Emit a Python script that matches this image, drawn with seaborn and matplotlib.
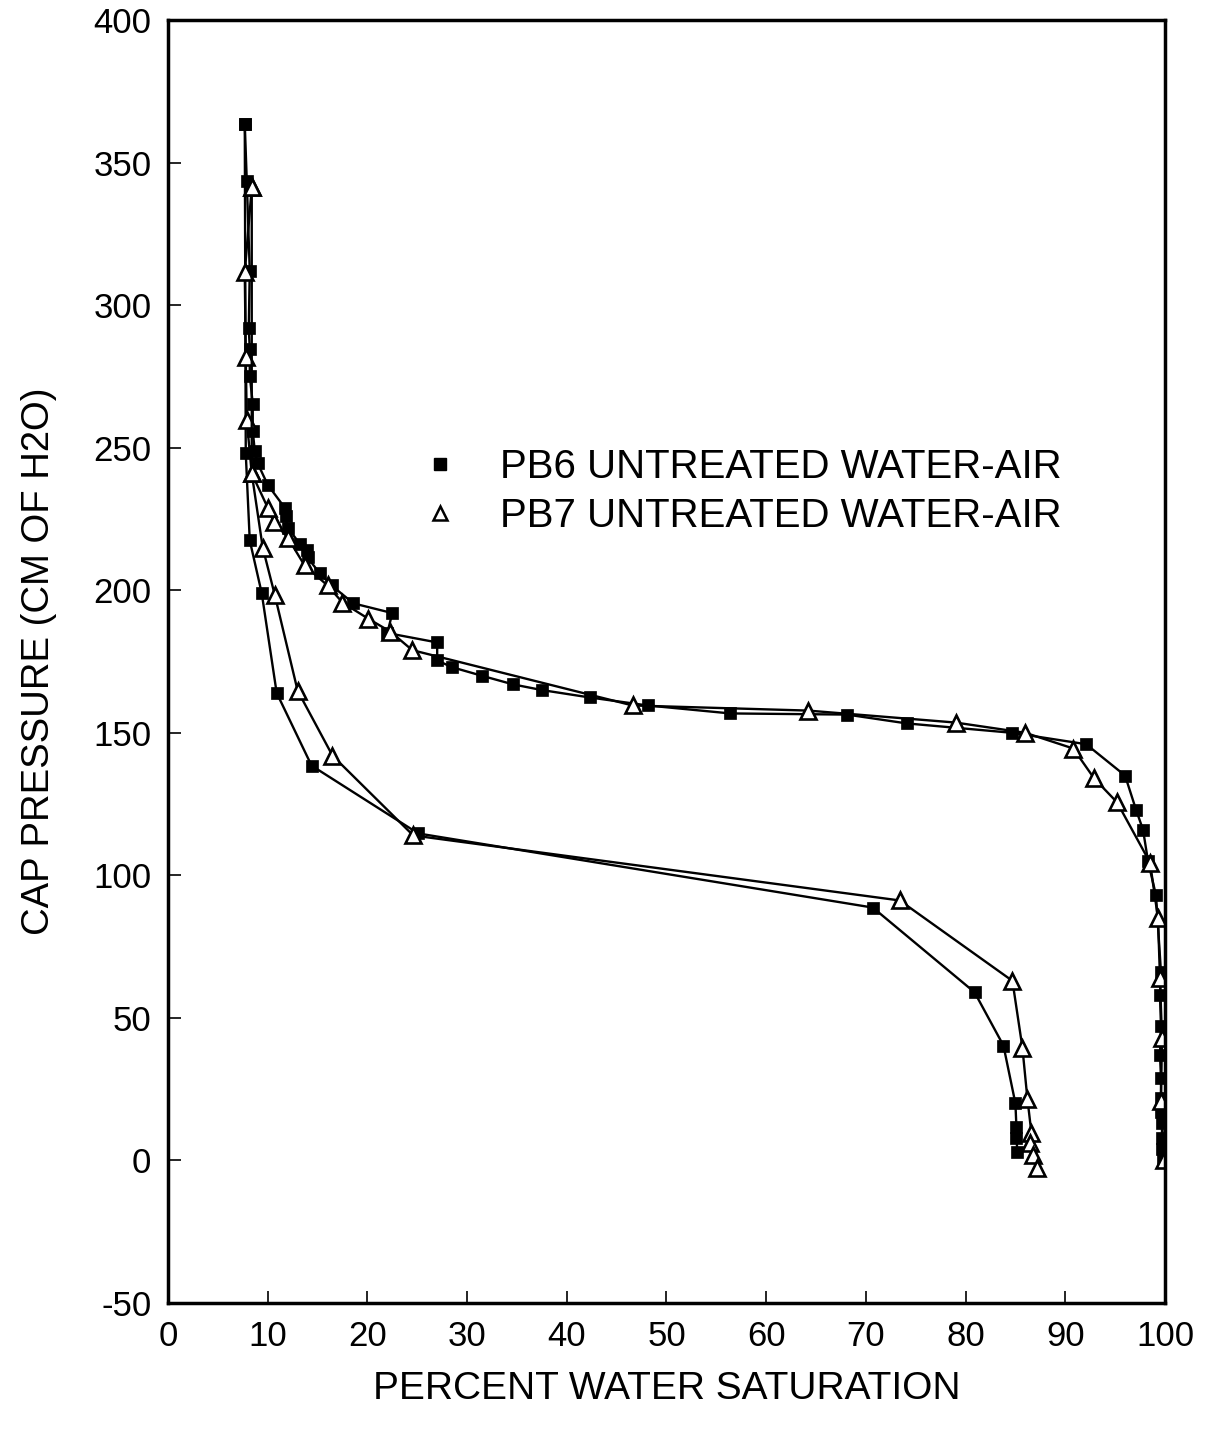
import matplotlib
matplotlib.use("Agg")
import matplotlib.pyplot as plt
import seaborn as sns
import pandas as pd
from matplotlib.lines import Line2D

# ---- data ----
pb6_drain_sw = [99.8, 99.7, 99.7, 99.7, 99.6, 99.6, 99.6, 99.5, 99.6, 99.5, 99.6, 99.1, 98.3, 97.8, 97.1, 96.0,
                92.1, 84.7, 74.1, 68.1, 56.4, 48.1, 42.3, 37.5, 34.6, 31.5, 28.5, 27.0, 27.0, 22.0, 22.5, 18.6,
                16.4, 15.2, 14.0, 13.9, 13.2, 12.0, 11.8, 11.7, 10.0, 9.0, 8.7, 8.5, 8.5, 8.2, 8.2, 8.1, 8.2,
                7.9, 7.7]
pb6_drain_pc = [1, 4, 8, 13, 17, 22, 29, 37, 47, 58, 66, 93, 105, 116, 123, 135,
                146, 150, 153.3, 156.4, 156.8, 159.6, 162.4, 165, 167, 170, 173, 175.4, 181.7, 185, 192, 195.4,
                201.7, 206, 211.5, 214, 216.4, 222, 226, 229, 237, 244.5, 249, 256, 265.5, 275.3, 284.8, 292, 312,
                343.7, 363.7]
pb6_imb_sw = [7.7, 7.8, 8.2, 9.4, 10.9, 14.4, 25.1, 70.7, 80.9, 83.8, 85.0, 85.1, 85.1, 85.2]
pb6_imb_pc = [363.7, 248, 217.5, 199, 164, 138.5, 114.7, 88.7, 59, 40.3, 20, 11.7, 8, 2.8]

pb7_drain_sw = [99.9, 99.6, 99.7, 99.5, 99.3, 98.5, 95.2, 92.9, 90.8, 86.0, 79.0, 64.2, 46.6, 24.5, 22.3,
                20.1, 17.5, 16.0, 13.7, 12.0, 10.6, 10.0, 8.4, 7.9, 7.8, 7.7, 8.4]
pb7_drain_pc = [0, 21, 43, 64, 85, 104.5, 125.6, 134, 144.5, 150, 153.6, 157.8, 159.6, 179, 185.5,
                190, 195.7, 201.7, 208.7, 218.5, 224, 229, 241, 259.6, 281.7, 311.5, 341.3]
pb7_imb_sw = [8.4, 8.4, 9.5, 10.7, 13.0, 16.5, 24.6, 73.4, 84.7, 85.7, 86.2, 86.6, 86.5, 86.8, 87.2]
pb7_imb_pc = [341.3, 241, 215, 198.5, 164.8, 142, 114, 91.2, 63, 39.6, 21.7, 9.8, 6, 1.8, -2.8]

legend_labels = ["PB6 UNTREATED WATER-AIR", "PB7 UNTREATED WATER-AIR"]
x_ticks = [0, 10, 20, 30, 40, 50, 60, 70, 80, 90, 100]
y_ticks = [-50, 0, 50, 100, 150, 200, 250, 300, 350, 400]

sns.set_theme(style="white")
plt.rcParams["font.family"] = ["Liberation Sans", "DejaVu Sans"]

fig = plt.figure(figsize=(12.13, 14.33), dpi=100)
ax = fig.add_axes([0.1385, 0.0907, 0.8219, 0.8953])

sq = dict(color="black", marker="s", markersize=8, markerfacecolor="black",
          markeredgecolor="black", markeredgewidth=0.5, linewidth=1.7, sort=False)
tri = dict(color="black", marker="^", markersize=12, markerfacecolor="white",
           markeredgecolor="black", markeredgewidth=1.9, linewidth=1.7, sort=False)

for sw, pc in [(pb6_drain_sw, pb6_drain_pc), (pb6_imb_sw, pb6_imb_pc)]:
    df = pd.DataFrame({"sw": sw, "pc": pc})
    sns.lineplot(data=df, x="sw", y="pc", ax=ax, estimator=None, **sq)
for sw, pc in [(pb7_drain_sw, pb7_drain_pc), (pb7_imb_sw, pb7_imb_pc)]:
    df = pd.DataFrame({"sw": sw, "pc": pc})
    sns.lineplot(data=df, x="sw", y="pc", ax=ax, estimator=None, **tri)

ax.set_xlim(0, 100)
ax.set_ylim(-50, 400)
ax.set_xticks(x_ticks)
ax.set_yticks(y_ticks)
ax.set_xticklabels([str(t) for t in x_ticks], fontsize=25)
ax.set_yticklabels([str(t) for t in y_ticks], fontsize=25)
ax.tick_params(axis="both", direction="in", length=9, width=1.2, color="black",
               pad=12, labelcolor="black", bottom=True, left=True)
for s in ax.spines.values():
    s.set_color("black")
    s.set_linewidth(2.5)

ax.set_xlabel("PERCENT WATER SATURATION", fontsize=28, color="black", labelpad=13)
ax.set_ylabel("CAP PRESSURE (CM OF H2O)", fontsize=27.5, color="black", labelpad=26)

handles = [
    Line2D([], [], linestyle="none", marker="s", markersize=8, markerfacecolor="black",
           markeredgecolor="black"),
    Line2D([], [], linestyle="none", marker="^", markersize=10, markerfacecolor="white",
           markeredgecolor="black", markeredgewidth=1.8),
]
ax.legend(handles, legend_labels, loc="upper left", bbox_to_anchor=(0.216, 0.695),
          frameon=False, fontsize=29, handlelength=1.0, handletextpad=1.0,
          labelspacing=0.28, labelcolor="black")

fig.savefig("out.png", dpi=100, facecolor="white")
